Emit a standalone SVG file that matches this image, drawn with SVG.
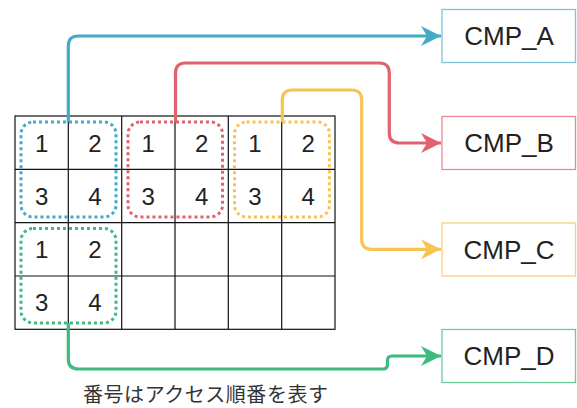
<svg xmlns="http://www.w3.org/2000/svg" width="577" height="408" viewBox="0 0 577 408">
<style>
.grid{fill:none;stroke:#111;stroke-width:1.2}
.num{font-family:"Liberation Sans",Arial,sans-serif;font-size:24px;fill:#222;text-anchor:middle;dominant-baseline:central}
.lbl{font-family:"Liberation Sans",Arial,sans-serif;font-size:26px;fill:#222;text-anchor:middle;dominant-baseline:central}
.box{fill:#fff;stroke-width:1.3}
.dot{fill:none;stroke-width:3;stroke-dasharray:3 3}
.conn{fill:none;stroke-width:3.2}
.note{font-family:"Noto Sans CJK JP","Noto Sans CJK SC",sans-serif;font-size:20px;fill:#333}
</style>
<defs>
<marker id="aB" markerUnits="userSpaceOnUse" markerWidth="22" markerHeight="22" refX="20" refY="10" orient="auto" viewBox="0 0 22 22"><path d="M0,0 L20,10 L0,20 L6,10 Z" fill="#45A9C8"/></marker>
<marker id="aR" markerUnits="userSpaceOnUse" markerWidth="22" markerHeight="22" refX="20" refY="10" orient="auto" viewBox="0 0 22 22"><path d="M0,0 L20,10 L0,20 L6,10 Z" fill="#E0626F"/></marker>
<marker id="aY" markerUnits="userSpaceOnUse" markerWidth="22" markerHeight="22" refX="20" refY="10" orient="auto" viewBox="0 0 22 22"><path d="M0,0 L20,10 L0,20 L6,10 Z" fill="#F6C453"/></marker>
<marker id="aG" markerUnits="userSpaceOnUse" markerWidth="22" markerHeight="22" refX="20" refY="10" orient="auto" viewBox="0 0 22 22"><path d="M0,0 L20,10 L0,20 L6,10 Z" fill="#3DBA7E"/></marker>
</defs>

<g id="grid">
<rect class="grid" x="15" y="116" width="320" height="213.3"/>
<path class="grid" d="M68.3,116V329.3M121.7,116V329.3M175,116V329.3M228.3,116V329.3M281.7,116V329.3M15,169.3H335M15,222.7H335M15,276H335"/>
</g>

<g id="group-blue">
<rect class="dot" x="21" y="122" width="95" height="95" rx="12" stroke="#45A9C8"/>
<text class="num" x="41.7" y="143">1</text><text class="num" x="95" y="143">2</text>
<text class="num" x="41.7" y="196">3</text><text class="num" x="95" y="196">4</text>
</g>
<g id="group-red">
<rect class="dot" x="128" y="122" width="94.5" height="95" rx="12" stroke="#E0626F"/>
<text class="num" x="148.3" y="143">1</text><text class="num" x="201.7" y="143">2</text>
<text class="num" x="148.3" y="196">3</text><text class="num" x="201.7" y="196">4</text>
</g>
<g id="group-yellow">
<rect class="dot" x="234.5" y="122" width="95" height="95" rx="12" stroke="#F6C453"/>
<text class="num" x="255" y="143">1</text><text class="num" x="308.3" y="143">2</text>
<text class="num" x="255" y="196">3</text><text class="num" x="308.3" y="196">4</text>
</g>
<g id="group-green">
<rect class="dot" x="21" y="228.5" width="95" height="94.5" rx="12" stroke="#3DBA7E"/>
<text class="num" x="41.7" y="249.5">1</text><text class="num" x="95" y="249.5">2</text>
<text class="num" x="41.7" y="302.5">3</text><text class="num" x="95" y="302.5">4</text>
</g>

<g id="connectors">
<path class="conn" stroke="#45A9C8" marker-end="url(#aB)" d="M68.3,122 V46 Q68.3,36 78.3,36 H441"/>
<path class="conn" stroke="#E0626F" marker-end="url(#aR)" d="M175.5,122 V73 Q175.5,63 185.5,63 H379.3 Q389.3,63 389.3,73 V133 Q389.3,143 399.3,143 H441"/>
<path class="conn" stroke="#F6C453" marker-end="url(#aY)" d="M282.3,122 V100 Q282.3,90 292.3,90 H351.7 Q361.7,90 361.7,100 V239.3 Q361.7,249.3 371.7,249.3 H441"/>
<path class="conn" stroke="#3DBA7E" marker-end="url(#aG)" d="M68.3,323 V359 Q68.3,369 78.3,369 H383 Q387.5,369 387.5,364.5 V360.5 Q387.5,356 392,356 H441"/>
</g>

<g id="cmp-a"><rect class="box" x="442" y="9.5" width="133.5" height="53" stroke="#7CC4DB"/><text class="lbl" x="509" y="36">CMP_A</text></g>
<g id="cmp-b"><rect class="box" x="442" y="116.5" width="133.5" height="53" stroke="#E88A95"/><text class="lbl" x="509" y="143">CMP_B</text></g>
<g id="cmp-c"><rect class="box" x="442" y="223" width="133.5" height="53" stroke="#F8D27F"/><text class="lbl" x="509" y="249.5">CMP_C</text></g>
<g id="cmp-d"><rect class="box" x="442" y="329.5" width="133.5" height="53" stroke="#6ACB9B"/><text class="lbl" x="509" y="356">CMP_D</text></g>

<text class="note" x="83" y="402" textLength="245" lengthAdjust="spacing">番号はアクセス順番を表す</text>
</svg>
